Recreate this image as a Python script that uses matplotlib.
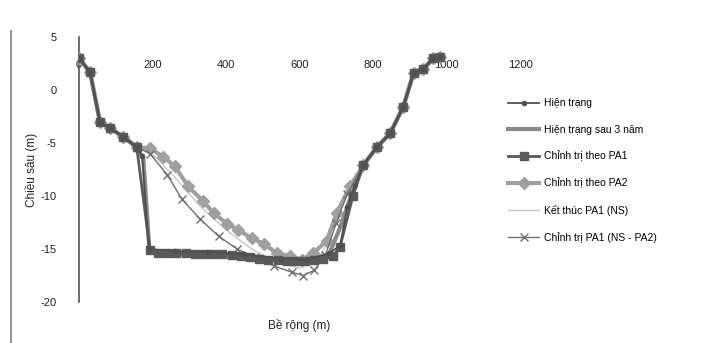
import matplotlib
matplotlib.use("Agg")
import matplotlib.pyplot as plt
from matplotlib.lines import Line2D

plt.rcParams['font.family'] = ['Liberation Sans', 'DejaVu Sans']

# ---- data ----
left_x = [0, 30, 57, 84, 120, 157]
left_y = [3.0, 1.7, -3.0, -3.6, -4.4, -5.4]
right_x = [773, 810, 846, 882, 910, 937, 964, 982]
right_y = [-7.1, -5.4, -4.1, -1.6, 1.6, 2.0, 3.0, 3.1]

ht_x = [172, 190, 260, 350, 450, 550, 620, 680, 710, 730, 750]
ht_y = [-6.2, -15.0, -15.2, -15.3, -15.5, -15.9, -16.0, -15.4, -14.7, -11.0, -9.0]

ht3_x = [175, 192, 300, 450, 550, 620, 680, 710, 740]
ht3_y = [-6.5, -15.3, -15.6, -15.8, -16.2, -16.4, -15.5, -13.0, -10.0]

pa1_x = [193, 215, 240, 265, 290, 315, 340, 365, 390, 415, 440, 465, 490,
         515, 540, 565, 590, 615, 640, 665, 690, 710, 745]
pa1_y = [-15.1, -15.4, -15.4, -15.4, -15.4, -15.5, -15.5, -15.5, -15.5, -15.6,
         -15.7, -15.8, -15.9, -16.0, -16.0, -16.1, -16.1, -16.1, -16.0, -15.9,
         -15.7, -14.8, -10.0]

pa2_x = [193, 229, 261, 297, 338, 366, 402, 433, 470, 502, 538, 574, 606,
         637, 674, 701, 737]
pa2_y = [-5.5, -6.3, -7.2, -9.1, -10.5, -11.6, -12.6, -13.2, -14.0, -14.5,
         -15.4, -15.7, -16.0, -15.4, -14.2, -11.6, -9.1]

ns_x = [193, 260, 330, 400, 470, 540, 600, 650, 690, 730]
ns_y = [-5.8, -8.2, -11.0, -13.2, -15.0, -16.3, -16.8, -16.0, -13.5, -9.5]

nspa2_x = [193, 240, 280, 330, 380, 430, 480, 530, 580, 610, 640, 670, 700, 730]
nspa2_y = [-6.0, -8.0, -10.3, -12.2, -13.8, -15.0, -15.8, -16.6, -17.2, -17.5,
           -17.0, -15.6, -12.5, -9.8]

labels = ["Hiện trạng", "Hiện trạng sau 3 năm", "Chỉnh trị theo PA1",
          "Chỉnh trị theo PA2", "Kết thúc PA1 (NS)", "Chỉnh trị PA1 (NS - PA2)"]
xticks = [0, 200, 400, 600, 800, 1000, 1200]
yticks = [5, 0, -5, -10, -15, -20]

def full(mx, my):
    return left_x + mx + right_x, left_y + my + right_y

fig = plt.figure(figsize=(7.15, 3.43), dpi=100)
ax = fig.add_axes([0.1105, 0.1195, 0.617, 0.7726])

x, y = full(ns_x, ns_y)
ax.plot(x, y, color='#c8c8c8', lw=1.0, label=labels[4], zorder=2)
x, y = full(pa2_x, pa2_y)
ax.plot(x, y, color='#a0a0a0', lw=3, marker='D', ms=6, mfc='#a0a0a0',
        mec='#a0a0a0', label=labels[3], zorder=3)
x, y = full(nspa2_x, nspa2_y)
ax.plot(x, y, color='#707070', lw=1.0, marker='x', ms=6, mew=1.0,
        label=labels[5], zorder=4)
x, y = full(ht3_x, ht3_y)
ax.plot(x, y, color='#8a8a8a', lw=3, label=labels[1], zorder=3)
x, y = full(pa1_x, pa1_y)
ax.plot(x, y, color='#5a5a5a', lw=2, marker='s', ms=6, mfc='#5a5a5a',
        mec='#5a5a5a', label=labels[2], zorder=5)
x, y = full(ht_x, ht_y)
ax.plot(x, y, color='#505050', lw=1.3, marker='o', ms=3, label=labels[0], zorder=6)

ax.set_xlim(0, 1200)
ax.set_ylim(-20, 5)
ax.set_xticks(xticks)
ax.set_yticks(yticks)
ax.set_yticklabels([str(v) for v in yticks])
for s in ['top', 'right', 'bottom']:
    ax.spines[s].set_visible(False)
ax.spines['left'].set_color('#555555')
ax.spines['left'].set_linewidth(1.2)
ax.tick_params(axis='x', top=False, bottom=False, labeltop=True,
               labelbottom=False, pad=-27, labelsize=8, colors='#222222')
ax.tick_params(axis='y', length=0, pad=16, labelsize=8, colors='#222222')
ax.set_xlabel("Bề rộng (m)", fontsize=8.5, color='#222222', labelpad=12)
ax.xaxis.set_label_position('bottom')
ax.set_ylabel("Chiều sâu (m)", fontsize=8.5, color='#222222', labelpad=2)

handles, labs = ax.get_legend_handles_labels()
order = [labs.index(l) for l in labels]
fig.legend([handles[i] for i in order], [labs[i] for i in order],
           loc='upper left', bbox_to_anchor=(0.705, 0.725), frameon=False,
           fontsize=7.5, handlelength=3.0, handletextpad=0.4,
           labelspacing=1.55, borderaxespad=0)

fig.add_artist(Line2D([0.015, 0.015], [0.0, 0.91], color='#999999', lw=1.5))

fig.savefig("out.png", dpi=100)
